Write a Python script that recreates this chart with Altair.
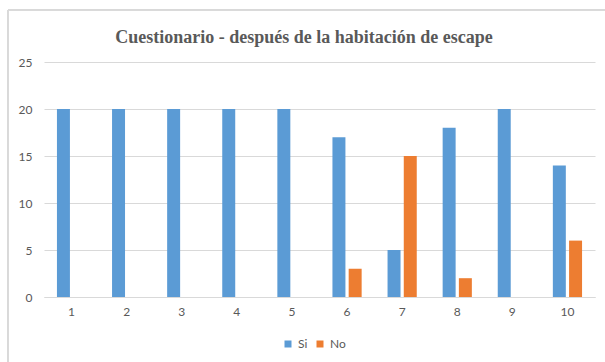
import altair as alt
import pandas as pd

categories = ["1", "2", "3", "4", "5", "6", "7", "8", "9", "10"]
si_values = [20, 20, 20, 20, 20, 17, 5, 18, 20, 14]
no_values = [0, 0, 0, 0, 0, 3, 15, 2, 0, 6]
series = ["Si", "No"]
colors = ["#5B9BD5", "#ED7D31"]
title_text = ["Cuestionario  - después de la habitación  de escape"]

rows = []
for c, s, n in zip(categories, si_values, no_values):
    rows.append({"pregunta": c, "serie": "Si", "valor": s})
    rows.append({"pregunta": c, "serie": "No", "valor": n})
df = pd.DataFrame(rows)
df_title = pd.DataFrame({"t": title_text})

W, H = 551, 235
grey = "#595959"
font = "Lato"

bars = alt.Chart(df).mark_bar().encode(
    x=alt.X("pregunta:N", sort=categories,
            scale=alt.Scale(paddingInner=0.47, paddingOuter=0.235),
            axis=alt.Axis(title=None, labelAngle=0, labelFont=font, labelFontSize=12,
                          labelColor=grey, ticks=False, domain=True, domainColor="#d9d9d9",
                          labelPadding=9, grid=False)),
    xOffset=alt.XOffset("serie:N", sort=series,
                        scale=alt.Scale(paddingInner=0.2, paddingOuter=0)),
    y=alt.Y("valor:Q", scale=alt.Scale(domain=[0, 25]),
            axis=alt.Axis(title=None, values=[0, 5, 10, 15, 20, 25], labelFont=font,
                          labelFontSize=12, labelColor=grey, ticks=False, domain=False,
                          gridColor="#d9d9d9", labelPadding=12)),
    color=alt.Color("serie:N", sort=series,
                    scale=alt.Scale(domain=series, range=colors),
                    legend=alt.Legend(title=None, orient="none", direction="horizontal",
                                      legendX=238, legendY=276, symbolType="square",
                                      symbolSize=49, symbolStrokeWidth=0,
                                      labelFont=font, labelFontSize=12, labelColor=grey,
                                      columnPadding=6, labelOffset=4)),
)

border = alt.Chart(df).mark_rect(fill=None, stroke="#d9d9d9", strokeWidth=1).encode(
    x=alt.value(-36), x2=alt.value(580), y=alt.value(-52), y2=alt.value(330)
)

title = alt.Chart(df_title).mark_text(
    font="Liberation Serif", fontSize=18, fontWeight="bold", color=grey,
    align="center", baseline="alphabetic"
).encode(text="t:N", x=alt.value(260), y=alt.value(-19))

chart = alt.layer(border, bars, title).properties(
    width=W, height=H,
    padding={"left": 44, "top": 62, "right": 10, "bottom": 65},
    autosize=alt.AutoSizeParams(type="none"),
).configure_view(stroke=None)

chart.save("out.html", embed_options={"renderer": "svg", "actions": False})
